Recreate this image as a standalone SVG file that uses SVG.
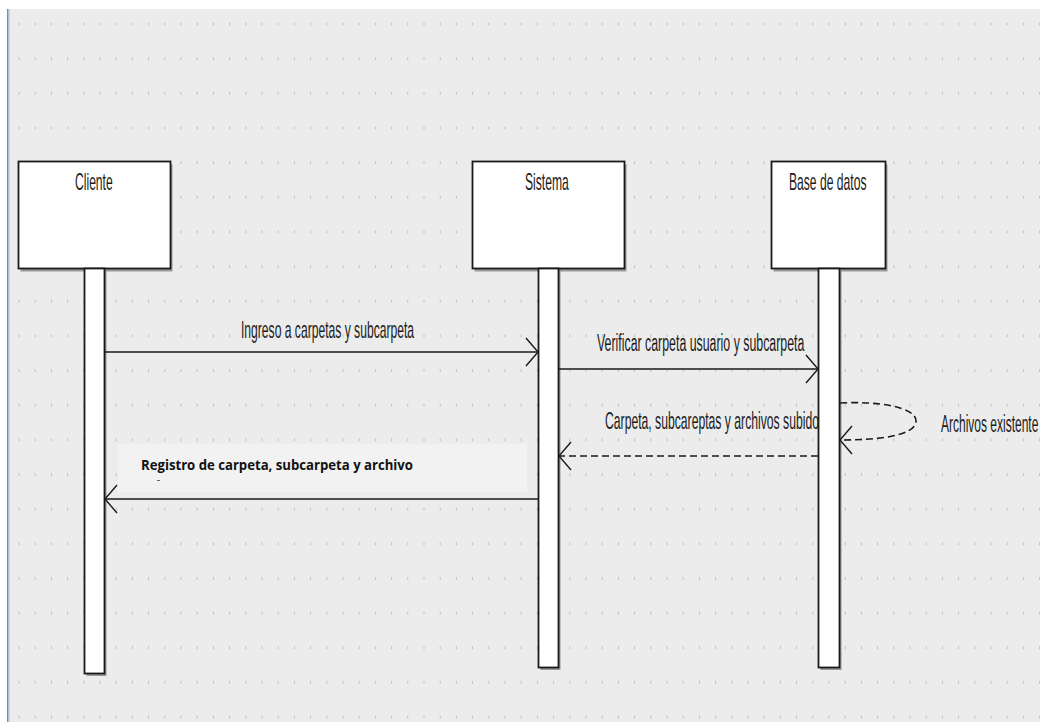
<svg xmlns="http://www.w3.org/2000/svg" width="1040" height="722" viewBox="0 0 1040 722">
  <defs>
    <!-- dotted canvas grid: short vertical ticks -->
    <pattern id="grid" patternUnits="userSpaceOnUse" x="18.5" y="22.5" width="16.2" height="34.65">
      <rect x="0" y="0" width="1" height="3" fill="#c0c0c0"/>
    </pattern>
    <!-- open arrowhead used by every message -->
    <marker id="open" markerUnits="userSpaceOnUse" viewBox="-14 -16 16 32" refX="0" refY="0" markerWidth="16" markerHeight="32" orient="auto" overflow="visible">
      <path d="M-12,-14 L0,0 L-12,14" fill="none" stroke="#1a1a1a" stroke-width="1.4" stroke-dasharray="none"/>
    </marker>
    <style>
      .box { fill: #ffffff; stroke: #1a1a1a; stroke-width: 1.8; }
      .shadow { fill: #7d7d7d; opacity: 0.75; }
      /* condensed label face: Arial metrics squeezed horizontally */
      .title { font-family: "Liberation Sans", Arial, sans-serif; font-size: 24px; fill: #1c1c1c; }
      .msg { fill: none; stroke: #1a1a1a; stroke-width: 1.6; }
      .dash { stroke-dasharray: 7 4; }
      .bold { font-family: "Open Sans", "Noto Sans", sans-serif; font-weight: bold; font-size: 13.5px; fill: #111111; }
    </style>
  </defs>

  <!-- canvas -->
  <rect x="0" y="0" width="1040" height="722" fill="#ffffff"/>
  <rect x="9" y="9" width="1031" height="713" fill="#ececec"/>
  <rect x="9" y="9" width="1031" height="713" fill="url(#grid)"/>
  <rect x="7" y="9" width="1.6" height="713" fill="#6a8cd6"/>
  <rect x="8.6" y="9" width="1" height="713" fill="#bcc8e4"/>

  <!-- Cliente -->
  <g id="cliente">
    <rect class="shadow" x="20.5" y="164.5" width="152" height="107"/>
    <rect class="box" x="18.5" y="161.5" width="152" height="107"/>
    <text class="title" transform="translate(75 190) scale(0.505 1)">Cliente</text>
    <rect class="shadow" x="86.5" y="271" width="20" height="405"/>
    <rect class="box" x="84.5" y="268.5" width="20" height="405"/>
  </g>

  <!-- Sistema -->
  <g id="sistema">
    <rect class="shadow" x="474.5" y="164.5" width="152" height="107"/>
    <rect class="box" x="472.5" y="161.5" width="152" height="107"/>
    <text class="title" transform="translate(525 190) scale(0.505 1)">Sistema</text>
    <rect class="shadow" x="540.5" y="271" width="20" height="399"/>
    <rect class="box" x="538.5" y="268.5" width="20" height="399"/>
  </g>

  <!-- Base de datos -->
  <g id="base-de-datos">
    <rect class="shadow" x="773.5" y="164.5" width="114" height="107"/>
    <rect class="box" x="771.5" y="161.5" width="114" height="107"/>
    <text class="title" transform="translate(789 190) scale(0.505 1)">Base de datos</text>
    <rect class="shadow" x="820.5" y="271" width="21" height="399"/>
    <rect class="box" x="818.5" y="268.5" width="21" height="399"/>
  </g>

  <!-- messages -->
  <g id="connectors">
    <line class="msg" x1="105" y1="352" x2="538" y2="352" marker-end="url(#open)"/>
    <line class="msg" x1="559" y1="369" x2="818" y2="369" marker-end="url(#open)"/>
    <path class="msg dash" d="M840,403 C878,401 916,407 916,421 C916,436 878,440 840,440" marker-end="url(#open)"/>
    <line class="msg dash" x1="818" y1="456" x2="559" y2="456" marker-end="url(#open)"/>
    <line class="msg" x1="538" y1="499" x2="105" y2="499" marker-end="url(#open)"/>
  </g>

  <!-- message labels -->
  <g id="labels">
    <text class="title" transform="translate(241 338) scale(0.505 1)">Ingreso a carpetas y subcarpeta</text>
    <text class="title" transform="translate(597 351) scale(0.515 1)">Verificar carpeta usuario y subcarpeta</text>
    <text class="title" transform="translate(605 429) scale(0.508 1)">Carpeta, subcareptas y archivos subido</text>
    <text class="title" transform="translate(941 432) scale(0.5 1)">Archivos existente</text>
    <rect x="118" y="444" width="409" height="48" fill="#f2f2f2"/>
    <text class="bold" x="141" y="470" textLength="272" lengthAdjust="spacingAndGlyphs">Registro de carpeta, subcarpeta y archivo</text>
    <rect x="157" y="480" width="3" height="1" fill="#666666"/>
  </g>
</svg>
